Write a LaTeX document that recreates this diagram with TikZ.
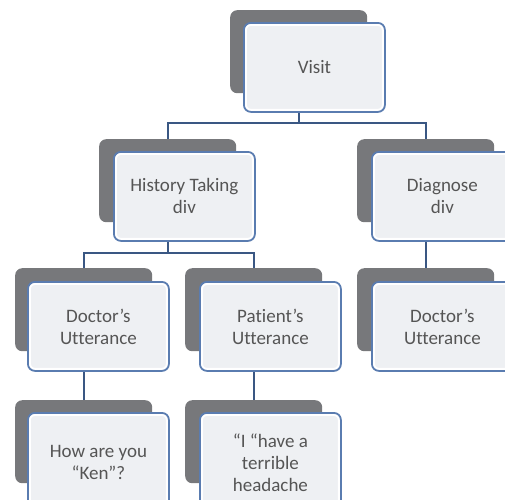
\documentclass[tikz,border=0pt]{standalone}
\usepackage{fontspec}
\setmainfont{Carlito}[Ligatures=NoCommon]
\definecolor{shadowgray}{HTML}{77787B}
\definecolor{boxblue}{HTML}{5A7CB0}
\definecolor{boxfill}{HTML}{EEF0F3}
\definecolor{connblue}{HTML}{3A5783}
\definecolor{txtgray}{HTML}{555555}
\begin{document}
\begin{tikzpicture}[x=1pt,y=-1pt,
  backbox/.style={draw=none,fill=shadowgray,rounded corners=7pt,anchor=north west,
    minimum width=137pt,minimum height=83pt,inner sep=0pt},
  frontbox/.style={draw=boxblue,line width=1.8pt,fill=boxfill,rounded corners=7pt,anchor=north west,
    minimum width=141pt,minimum height=89pt,inner sep=0pt,align=center,text=txtgray,
    font=\fontsize{19}{22}\selectfont,
    path picture={\draw[white,line width=6pt,rounded corners=7pt]
      (path picture bounding box.south west) rectangle (path picture bounding box.north east);}},
  tallbox/.style={minimum height=100pt},
  conn/.style={draw=connblue,line width=2.4pt}]
\useasboundingbox (0,0) rectangle (505,499);
\clip (0,0) rectangle (505,499);
% back boxes
\node[backbox] (visitS) at (230,10) {};
\node[backbox] (histS) at (99,139) {};
\node[backbox] (diagS) at (357,139) {};
\node[backbox] (docLS) at (15,268) {};
\node[backbox] (patS) at (185,268) {};
\node[backbox] (docRS) at (357,268) {};
\node[backbox] (howS) at (15,400) {};
\node[backbox] (headS) at (185,400) {};
% connectors
\coordinate (busA) at (0,123);
\coordinate (busB) at (0,253);
\draw[conn] (visitS.south) -- (visitS.south |- busA);
\draw[conn] (histS.north) -- (histS.north |- busA) -| (diagS.north);
\draw[conn] (histS.south) -- (histS.south |- busB);
\draw[conn] (docLS.north) -- (docLS.north |- busB) -| (patS.north);
\draw[conn] (diagS.south) -- (docRS.north);
\draw[conn] (docLS.south) -- (howS.north);
\draw[conn] (patS.south) -- (headS.north);
% front boxes
\node[frontbox] (visitF) at (243,22) {Visit};
\node[frontbox] (histF) at (113,151) {History Taking\\div};
\node[frontbox] (diagF) at (371,151) {Diagnose\\div};
\node[frontbox] (docLF) at (27,281) {Doctor’s\\Utterance};
\node[frontbox] (patF) at (199,281) {Patient’s\\Utterance};
\node[frontbox] (docRF) at (371,281) {Doctor’s\\Utterance};
\node[frontbox,tallbox] (howF) at (27,412) {How are you\\“Ken”?};
\node[frontbox,tallbox] (headF) at (199,412) {“I “have a\\terrible\\headache};
\end{tikzpicture}
\end{document}
